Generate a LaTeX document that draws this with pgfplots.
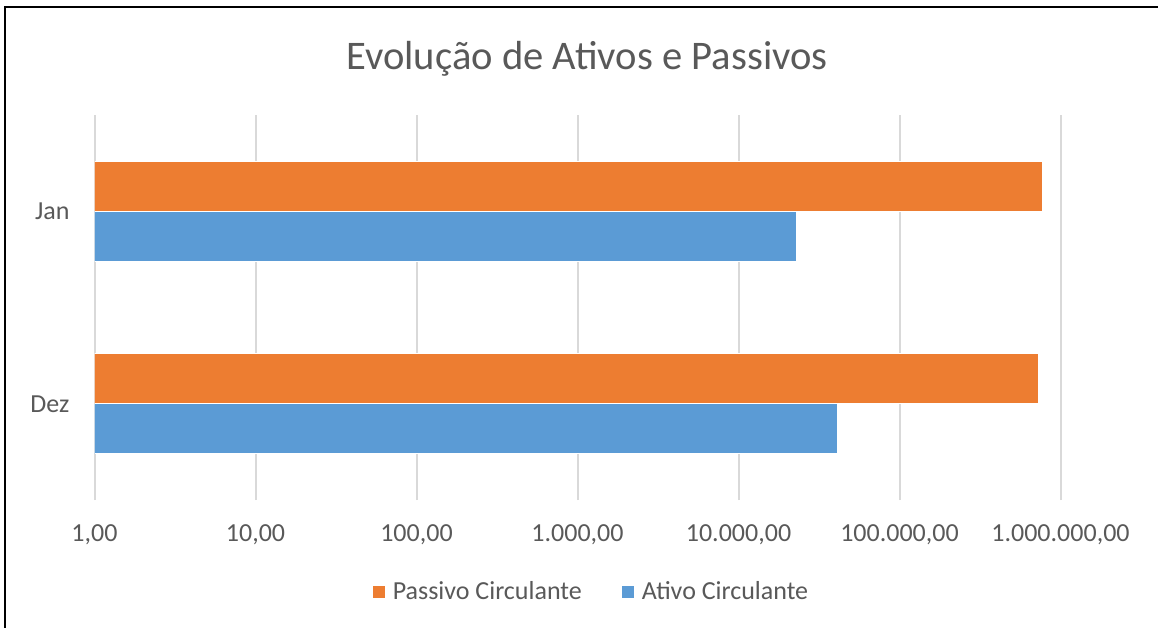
\documentclass[border=0pt]{standalone}
\usepackage{pgfplots}
\pgfplotsset{compat=1.18}
\usepackage{fontspec}
\setmainfont{Carlito}
\definecolor{orangeE}{HTML}{ED7D31}
\definecolor{blueE}{HTML}{5B9BD5}
\definecolor{gridE}{HTML}{D9D9D9}
\definecolor{textE}{HTML}{595959}
\begin{document}
\begin{tikzpicture}
\useasboundingbox (0,0) rectangle (579pt,314pt);
\draw[line width=1.3pt, black] (579pt,310.5pt) -- (2.5pt,310.5pt) -- (2.5pt,0pt);
\node[text=textE, font=\fontsize{20.3}{24}\selectfont] at (293.5pt,284.5pt) {Evolução de Ativos e Passivos};
\begin{axis}[at={(47.25pt,64pt)}, anchor=south west, scale only axis,
 width=483pt, height=192.5pt,
 xmode=log, xmin=1, xmax=1e6, ymin=-0.5, ymax=1.5,
 xbar, bar width=25pt,
 ytick={0,1}, yticklabels={Dez,Jan},
 xtick={1,10,100,1000,10000,100000,1000000},
 xticklabels={{1,00},{10,00},{100,00},{1.000,00},{10.000,00},{100.000,00},{1.000.000,00}},
 xminorticks=false,
 xmajorgrids, grid style={gridE, line width=1pt},
 axis line style={draw=none}, major tick length=0pt,
 tick label style={text=textE, font=\fontsize{13}{15}\selectfont},
 xticklabel style={yshift=-9pt},
 yticklabel style={xshift=-9pt},
 legend columns=2,
 legend style={draw=none, at={(0.5155,-0.239)}, anchor=center,
   font=\fontsize{13}{15}\selectfont, text=textE,
   /tikz/every even column/.append style={column sep=18pt}},
 legend image code/.code={\fill[#1,draw=none] (0pt,-3pt) rectangle (6pt,3pt); \path[draw=none,fill=none] (0pt,0pt) -- (8pt,0pt);},
]
\addplot[fill=orangeE, draw=white, line width=0.4pt, bar shift=12.5pt] coordinates {(732000,0) (774000,1)};
\addlegendentry{Passivo Circulante}
\addplot[fill=blueE, draw=white, line width=0.4pt, bar shift=-12.5pt] coordinates {(41100,0) (22750,1)};
\addlegendentry{Ativo Circulante}
\end{axis}
\end{tikzpicture}
\end{document}
